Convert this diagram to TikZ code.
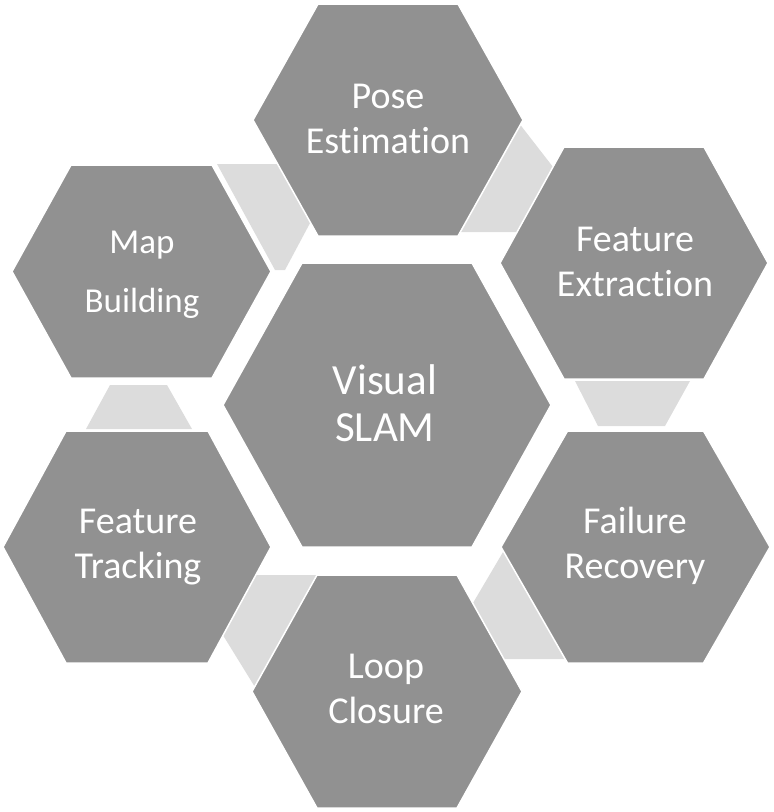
\documentclass[tikz,border=0pt]{standalone}
\usepackage{fontspec}
\setmainfont{Carlito}[Ligatures=NoCommon]
\definecolor{hexgray}{HTML}{919191}
\definecolor{conlight}{HTML}{DCDCDC}
\newcommand{\hexpath}[5]{(#1-#3,#2) -- (#1-#5,#2-#4) -- (#1+#5,#2-#4) -- (#1+#3,#2) -- (#1+#5,#2+#4) -- (#1-#5,#2+#4) -- cycle}
\tikzset{
  hexa/.style={fill=hexgray, draw=white, line width=1.5pt, line join=miter},
  conn/.style={fill=conlight},
  lbl/.style={text=white, align=center, inner sep=0pt, font=\fontsize{38}{45}\selectfont},
}
\begin{document}
\begin{tikzpicture}[x=1pt,y=-1pt]
\useasboundingbox (0,0) rectangle (774,812);
% light connector shapes (behind)
\fill[conn] (217,164) -- (300,164) -- (317,210) -- (285,270) -- (275,270) -- cycle;
\fill[conn] (515,118) -- (560,176) -- (530,232) -- (455,232) -- cycle;
\fill[conn] (575,381) -- (690,381) -- (665,426) -- (598,426) -- cycle;
\fill[conn] (506,547) -- (580,659) -- (490,659) -- (460,625) -- cycle;
\fill[conn] (213,619) -- (245,575) -- (317,575) -- (300,650) -- (258,692) -- cycle;
\fill[conn] (110,385) -- (167,385) -- (192,429) -- (86,429) -- cycle;
% hexagons
\path[hexa] \hexpath{387}{405}{164}{142}{85};
\path[hexa] \hexpath{388}{120}{135}{116}{70};
\path[hexa] \hexpath{141.5}{271.5}{129.5}{106.5}{70.5};
\path[hexa] \hexpath{634}{263}{134}{116}{70};
\path[hexa] \hexpath{635.5}{547}{134.5}{116}{68};
\path[hexa] \hexpath{137}{547}{134}{116}{71};
\path[hexa] \hexpath{387}{691.5}{135}{116.5}{70};
% labels
\node[lbl, font=\fontsize{43}{47}\selectfont] (slam) at (385,409) {\strut Visual\\\strut SLAM};
\node[lbl] (pose) at (388,121.5) {\strut Pose\\\strut Estimation};
\node[lbl, font=\fontsize{35}{59}\selectfont] (map) at (142,270.7) {\strut Map\\\strut Building};
\node[lbl] (fext) at (635,264.5) {\strut Feature\\\strut Extraction};
\node[lbl] (frec) at (635,547) {\strut Failure\\\strut Recovery};
\node[lbl] (ftrk) at (138,547) {\strut Feature\\\strut Tracking};
\node[lbl] (loop) at (386,692) {\strut Loop\\\strut Closure};
\end{tikzpicture}
\end{document}
